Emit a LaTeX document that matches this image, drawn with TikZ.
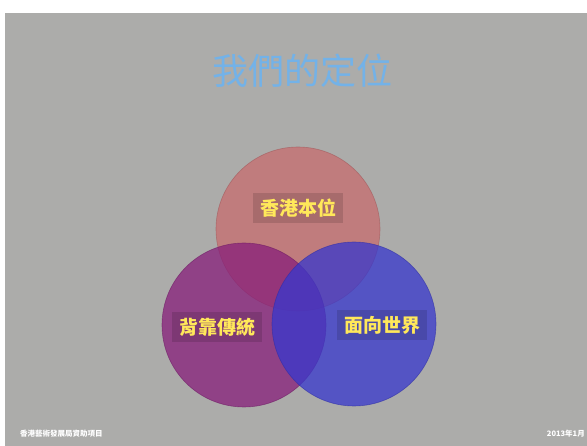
\documentclass[tikz,border=0pt]{standalone}
\usepackage{fontspec}
\newfontfamily\cjk{Noto Sans CJK TC}
\definecolor{slidebg}{RGB}{172,172,170}
\definecolor{topc}{RGB}{200,108,110}
\definecolor{leftc}{RGB}{135,30,122}
\definecolor{rightc}{RGB}{55,55,205}
\definecolor{titlec}{RGB}{115,178,232}
\definecolor{labelc}{RGB}{255,232,90}
\tikzset{
  ring/.style={circle, minimum size=164pt, inner sep=0pt, fill opacity=0.75, draw opacity=0.6, line width=0.6pt},
  tag/.style={fill=black, fill opacity=0.13, text opacity=1, text=labelc,
    font=\cjk\bfseries\fontsize{19}{19}\selectfont, inner xsep=7pt, inner ysep=6pt},
  foot/.style={text=white, font=\cjk\bfseries\fontsize{7.5}{7.5}\selectfont, inner sep=0pt}
}
\begin{document}
\begin{tikzpicture}[x=1pt,y=-1pt]
\useasboundingbox (0,0) rectangle (587,446);
\fill[white] (0,0) rectangle (587,446);
\fill[slidebg] (5,13) rectangle (587,446);
\node[titlec, font=\cjk\fontsize{36}{36}\selectfont, inner sep=0pt] (title) at (302,71) {我們的定位};
\node[ring, fill=topc, draw=topc!80!black] (top) at (298,229) {};
\node[ring, fill=leftc, draw=leftc!80!black] (left) at (244,325) {};
\node[ring, fill=rightc, draw=rightc!80!black] (right) at (354,324) {};
\node[tag] (hk) at (298,208) {香港本位};
\node[tag] (trad) at (217,327) {背靠傳統};
\node[tag] (world) at (382,325) {面向世界};
\node[foot, anchor=west] (f1) at (20,434) {香港藝術發展局資助項目};
\node[foot, anchor=east] (f2) at (585,434) {2013年1月};
\end{tikzpicture}
\end{document}
